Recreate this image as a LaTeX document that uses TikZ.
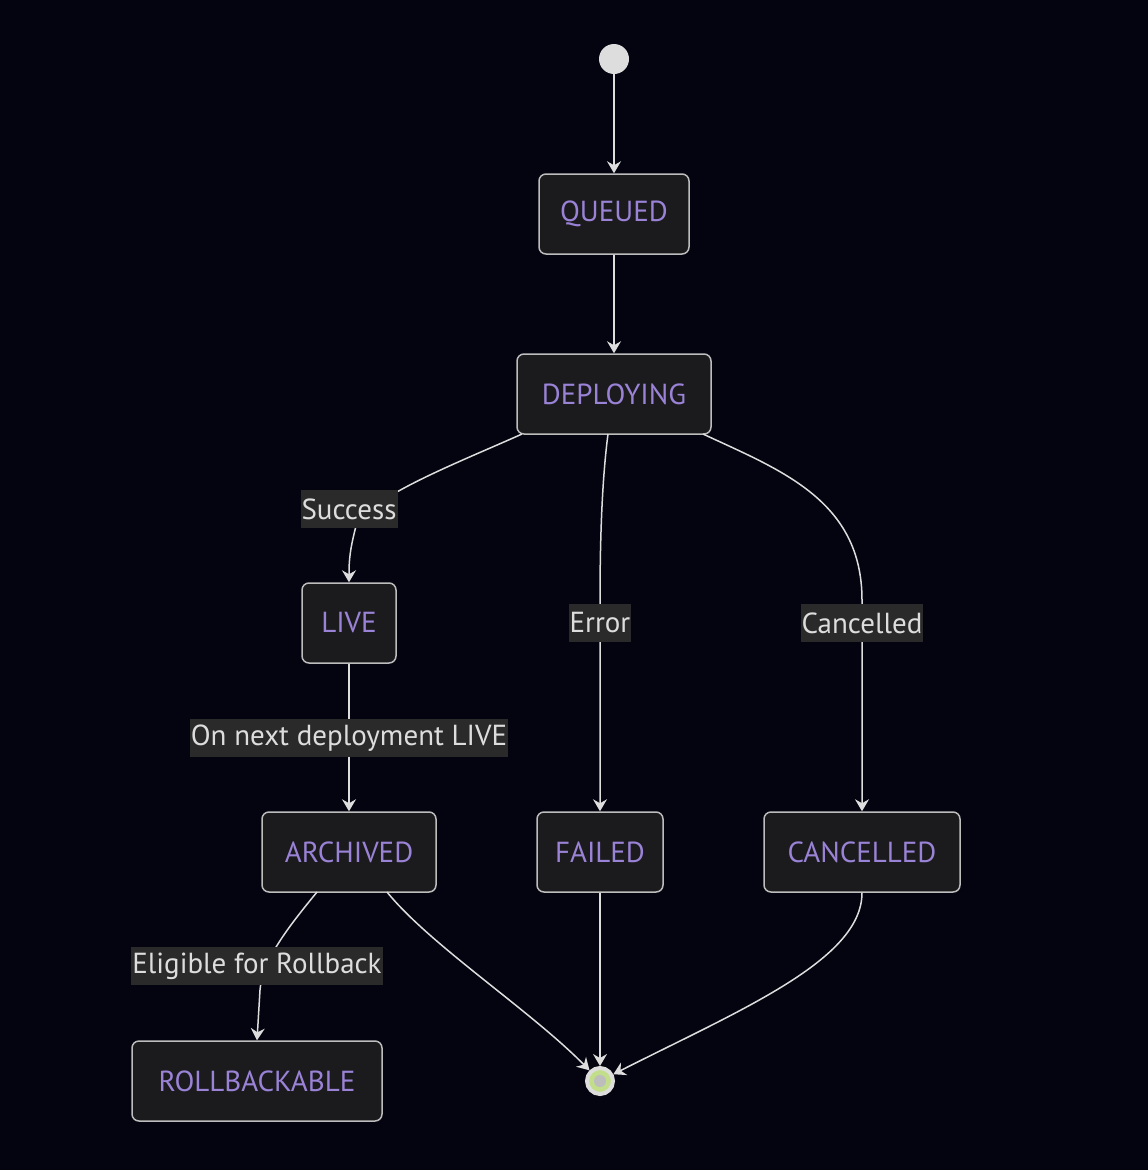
\documentclass[tikz,border=0pt]{standalone}
\usepackage{fontspec}
\setmainfont{PT Sans}
\usetikzlibrary{arrows.meta}
\definecolor{bg}{HTML}{03040F}
\definecolor{nfill}{HTML}{1B1B1D}
\definecolor{nline}{HTML}{BDBDBD}
\definecolor{ntext}{HTML}{9A83D6}
\definecolor{edge}{HTML}{DDDDDD}
\definecolor{lbg}{HTML}{2A2A2A}
\definecolor{lime}{HTML}{C2DE8A}
\begin{document}
\begin{tikzpicture}[x=1pt,y=-1pt,
  st/.style={draw=nline,line width=1.5pt,fill=nfill,rounded corners=7pt,minimum height=80pt,text=ntext,font=\fontsize{29}{32}\selectfont,inner sep=0pt},
  lb/.style={fill=lbg,text=edge,font=\fontsize{29}{32}\selectfont,inner sep=1pt,minimum height=38pt},
  ar/.style={draw=edge,line width=1.5pt,-{Stealth[inset=4pt,length=12pt,width=14pt]}}]
\fill[bg] (0,0) rectangle (1148,1170);
\node[circle,fill=edge,minimum size=30pt,inner sep=0pt] (s) at (614,59) {};
\node[st,minimum width=150pt] (q) at (614,214) {QUEUED};
\node[st,minimum width=194pt] (d) at (614,394) {DEPLOYING};
\node[st,minimum width=94pt] (l) at (349,623) {LIVE};
\node[st,minimum width=174pt] (a) at (349,852) {ARCHIVED};
\node[st,minimum width=126pt] (f) at (600,852) {FAILED};
\node[st,minimum width=196pt] (c) at (862,852) {CANCELLED};
\node[st,minimum width=250pt] (r) at (257,1081) {ROLLBACKABLE};
\node[circle,draw=edge,line width=4pt,fill=lime,minimum size=26pt,inner sep=0pt] (e) at (600,1081) {};
\node[circle,fill=nline,minimum size=12pt,inner sep=0pt] at (e) {};
\draw[ar] (s) -- (q);
\draw[ar] (q) -- (d);
\coordinate (d1) at (522,434);
\coordinate (d2) at (608,434);
\coordinate (d3) at (703,434);
\draw[ar] (d1) .. controls (460,462) and (360,500) .. (355,530) .. controls (350,550) and (349,560) .. (l.north);
\draw[ar] (d2) .. controls (602,480) and (600,540) .. (600,600) -- (f.north);
\draw[ar] (d3) .. controls (780,470) and (862,500) .. (862,600) -- (c.north);
\draw[ar] (l) -- (a);
\coordinate (a1) at (317,892);
\coordinate (a2) at (387,892);
\draw[ar] (a1) .. controls (290,925) and (262,960) .. (260,990) -- (r.north);
\draw[ar] (a2) .. controls (430,945) and (530,1010) .. (e);
\draw[ar] (f) -- (e);
\draw[ar] (c.south) .. controls (862,960) and (740,1010) .. (e);
\node[lb] at (349,509) {Success};
\node[lb] at (600,623) {Error};
\node[lb] at (862,623) {Cancelled};
\node[lb] at (349,738) {On next deployment LIVE};
\node[lb] at (257,966) {Eligible for Rollback};
\end{tikzpicture}
\end{document}
